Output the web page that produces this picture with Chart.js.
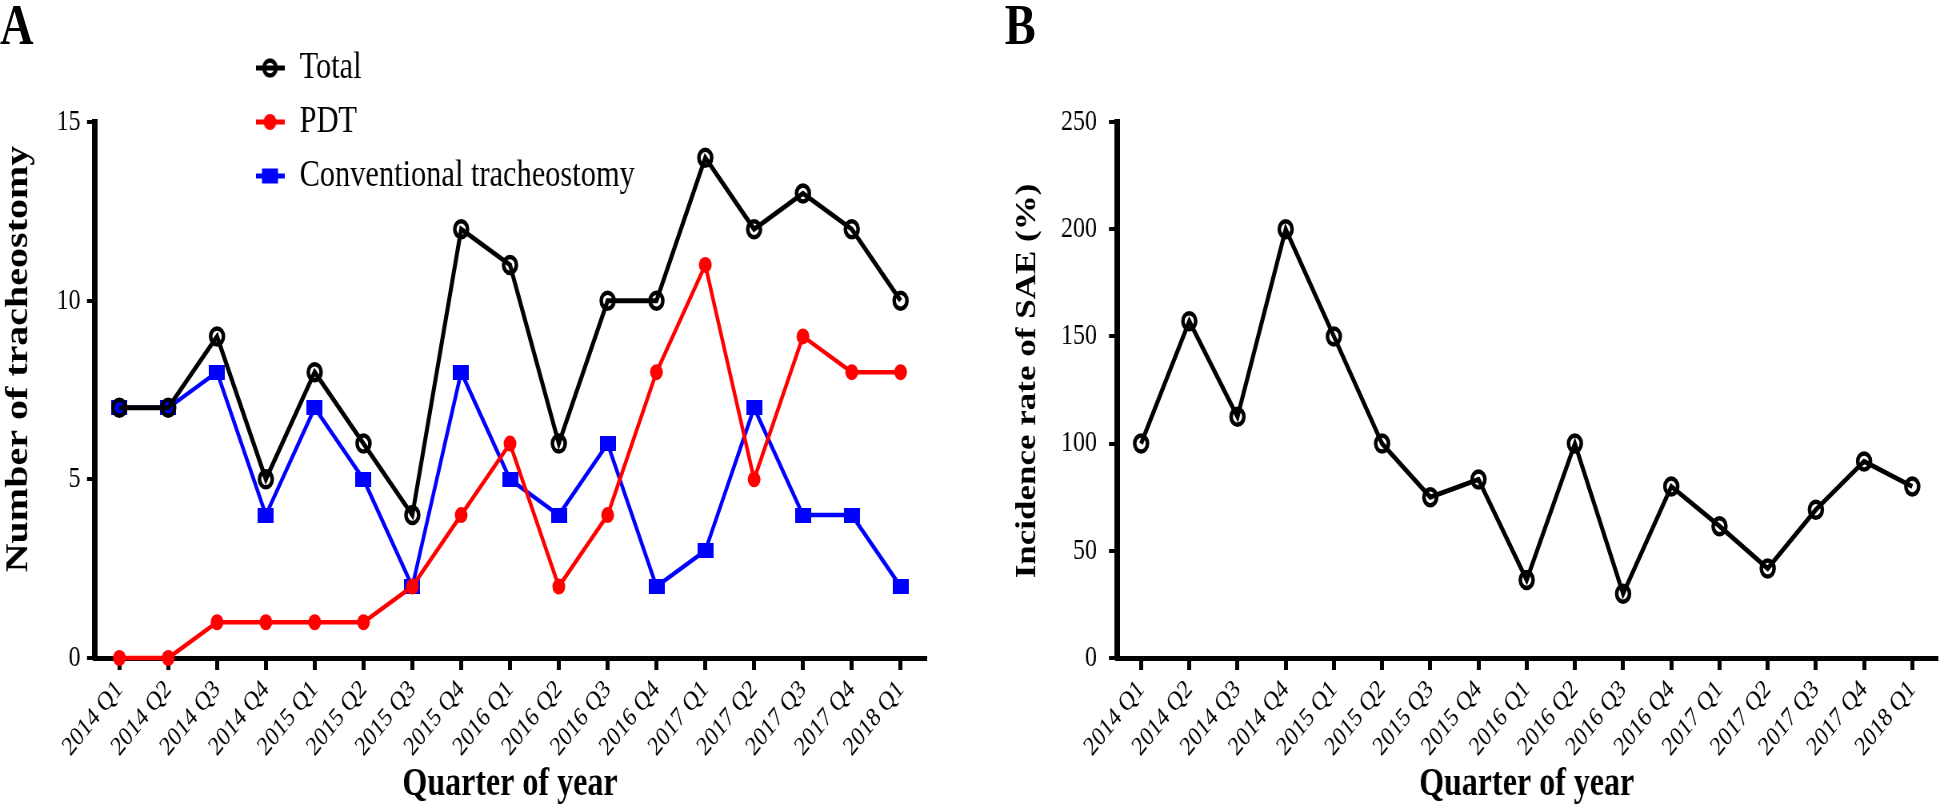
<!DOCTYPE html>
<html>
<head>
<meta charset="utf-8">
<script src="https://cdn.jsdelivr.net/npm/chart.js@4/dist/chart.umd.min.js"></script>
<style>
html, body { margin: 0; padding: 0; background: #fff; overflow: hidden; width: 1946px; height: 809px; }
#stage { position: absolute; left: 0; top: 0; width: 2433px; height: 809px; transform: scaleX(0.8); transform-origin: 0 0; }
#stage canvas { position: absolute; top: 0; }
.panel { position: absolute; font-family: "Liberation Serif", "Times New Roman", serif; font-weight: bold; font-size: 58px; line-height: 1; color: #000; }
</style>
</head>
<body>
<div id="stage">
  <canvas id="chartA" width="1200" height="809" style="left:0px;width:1200px;height:809px"></canvas>
  <canvas id="chartB" width="1233" height="809" style="left:1200px;width:1233px;height:809px"></canvas>
  <div class="panel" style="left:0px;top:-4px">A</div>
  <div class="panel" style="left:1256px;top:-4px">B</div>
</div>
<script>
// ---- data ----
const quarters = ['2014 Q1','2014 Q2','2014 Q3','2014 Q4','2015 Q1','2015 Q2','2015 Q3','2015 Q4',
                  '2016 Q1','2016 Q2','2016 Q3','2016 Q4','2017 Q1','2017 Q2','2017 Q3','2017 Q4','2018 Q1'];
const totalCounts        = [7, 7, 9, 5, 8, 6, 4, 12, 11, 6, 10, 10, 14, 12, 13, 12, 10];
const pdtCounts          = [0, 0, 1, 1, 1, 1, 2, 4, 6, 2, 4, 8, 11, 5, 9, 8, 8];
const conventionalCounts = [7, 7, 8, 4, 7, 5, 2, 8, 5, 4, 6, 2, 3, 7, 4, 4, 2];
const saeRates           = [100, 157.1, 112.5, 200, 150, 100, 75, 83.3, 36.4, 100, 30, 80, 61.5, 41.7, 69.2, 91.7, 80];
const countTicks = [0, 5, 10, 15];
const rateTicks  = [0, 50, 100, 150, 200, 250];
const seriesNames = ['Total', 'PDT', 'Conventional tracheostomy'];

// ---- styles ----
const FONT = '"Liberation Serif", "Times New Roman", serif';
const BLACK = '#000000', RED = '#ff0000', BLUE = '#0000ff';

function squareMarker(color) {
  const c = document.createElement('canvas');
  c.width = 20; c.height = 15;
  const g = c.getContext('2d');
  g.fillStyle = color; g.fillRect(0, 0, 20, 15);
  return c;
}
function legendIcon(kind, color) {
  const c = document.createElement('canvas');
  c.width = 36; c.height = 24;
  const g = c.getContext('2d');
  g.strokeStyle = color; g.fillStyle = color;
  g.lineWidth = 5;
  g.beginPath(); g.moveTo(0, 12); g.lineTo(36, 12); g.stroke();
  if (kind === 'ring') {
    g.lineWidth = 4.5;
    g.beginPath(); g.arc(18, 12, 7.5, 0, Math.PI * 2); g.stroke();
  } else if (kind === 'dot') {
    g.beginPath(); g.arc(18, 12, 8, 0, Math.PI * 2); g.fill();
  } else {
    g.fillRect(8, 4.5, 20, 15);
  }
  return c;
}
const blueSquare = squareMarker(BLUE);
const legendIcons = [legendIcon('ring', BLACK), legendIcon('dot', RED), legendIcon('square', BLUE)];

function makeScales(yTicks, yMax, yTitle, yTitleSize, yTitlePad, yAxisWidth, yLabelPad) {
  return {
    x: {
      type: 'category',
      offset: true,
      grid: { display: true, drawOnChartArea: false, drawTicks: true, tickLength: 12, color: BLACK, lineWidth: 5, offset: false },
      border: { display: true, color: BLACK, width: 5 },
      ticks: { autoSkip: false, minRotation: 45, maxRotation: 45, color: BLACK, padding: 4,
               font: { family: FONT, size: 27 } },
      title: { display: true, text: 'Quarter of year', color: BLACK,
               font: { family: FONT, size: 40, weight: 'bold' }, padding: { top: 0, bottom: 0 } },
      afterFit(s) { s.height = 151; }
    },
    y: {
      min: 0, max: yMax,
      afterBuildTicks(s) { s.ticks = yTicks.map(v => ({ value: v })); },
      grid: { display: true, drawOnChartArea: false, drawTicks: true, tickLength: 10, color: BLACK, lineWidth: 4 },
      border: { display: true, color: BLACK, width: 7 },
      ticks: { color: BLACK, padding: yLabelPad, font: { family: FONT, size: 30 } },
      title: { display: true, text: yTitle, color: BLACK,
               font: { family: FONT, size: yTitleSize, weight: 'bold' }, padding: { top: yTitlePad, bottom: 0 } },
      afterFit(s) { s.width = yAxisWidth; }
    }
  };
}

// moves the legend box to its place and nudges the y-axis title along the axis
const layoutTweaks = {
  id: 'layoutTweaks',
  afterLayout(chart, args, opts) {
    const lg = chart.legend;
    if (lg && opts.legendLeft !== undefined) {
      lg.left = opts.legendLeft; lg.top = opts.legendTop;
      lg.right = opts.legendLeft + 700; lg.bottom = opts.legendTop + 400;
      lg.width = 700; lg.height = 400;
    }
    const ys = chart.scales.y;
    if (ys && !ys._titleShiftPatched) {
      const orig = ys.drawTitle;
      const shift = opts.titleShift || 0;
      ys.drawTitle = function () {
        this.ctx.save();
        this.ctx.translate(0, shift);
        orig.apply(this, arguments);
        this.ctx.restore();
      };
      ys._titleShiftPatched = true;
    }
  }
};

new Chart(document.getElementById('chartA'), {
  type: 'line',
  data: {
    labels: quarters,
    datasets: [
      { label: seriesNames[0], data: totalCounts, borderColor: BLACK, borderWidth: 5,
        pointStyle: 'circle', pointRadius: 8, pointBorderWidth: 4.5,
        pointBackgroundColor: 'rgba(0,0,0,0)', pointBorderColor: BLACK, tension: 0, clip: false },
      { label: seriesNames[1], data: pdtCounts, borderColor: RED, borderWidth: 4.5,
        pointStyle: 'circle', pointRadius: 8, pointBorderWidth: 0,
        pointBackgroundColor: RED, pointBorderColor: RED, tension: 0, clip: false },
      { label: seriesNames[2], data: conventionalCounts, borderColor: BLUE, borderWidth: 4.5,
        pointStyle: blueSquare, pointRadius: 8,
        pointBackgroundColor: BLUE, pointBorderColor: BLUE, tension: 0, clip: false }
    ]
  },
  options: {
    responsive: false, animation: false, devicePixelRatio: 1, events: [],
    layout: { padding: { left: 0, right: 43.75, top: 122, bottom: 0 } },
    scales: makeScales(countTicks, 15, 'Number of tracheostomy', 40, 0, 118.75, 8),
    plugins: {
      legend: {
        display: true, position: 'chartArea', align: 'start',
        labels: {
          usePointStyle: true, boxWidth: 36, padding: 16, color: BLACK,
          font: { family: FONT, size: 38 },
          generateLabels(chart) {
            return chart.data.datasets.map((ds, i) => ({
              text: ds.label, pointStyle: legendIcons[i], fillStyle: ds.borderColor,
              strokeStyle: ds.borderColor, lineWidth: 0, hidden: false, datasetIndex: i, fontColor: BLACK
            }));
          }
        }
      },
      layoutTweaks: { legendLeft: 303.5, legendTop: 33, titleShift: -31 },
      tooltip: { enabled: false }
    }
  },
  plugins: [layoutTweaks]
});

new Chart(document.getElementById('chartB'), {
  type: 'line',
  data: {
    labels: quarters,
    datasets: [
      { label: 'Incidence rate of SAE', data: saeRates, borderColor: BLACK, borderWidth: 5,
        pointStyle: 'circle', pointRadius: 8, pointBorderWidth: 4.5,
        pointBackgroundColor: 'rgba(0,0,0,0)', pointBorderColor: BLACK, tension: 0, clip: false }
    ]
  },
  options: {
    responsive: false, animation: false, devicePixelRatio: 1, events: [],
    layout: { padding: { left: 0, right: 0.5, top: 122, bottom: 0 } },
    scales: makeScales(rateTicks, 250, 'Incidence rate of SAE (%)', 35, 64, 196.25, 15),
    plugins: { legend: { display: false }, tooltip: { enabled: false },
               layoutTweaks: { titleShift: -9 } }
  },
  plugins: [layoutTweaks]
});
</script>
</body>
</html>
